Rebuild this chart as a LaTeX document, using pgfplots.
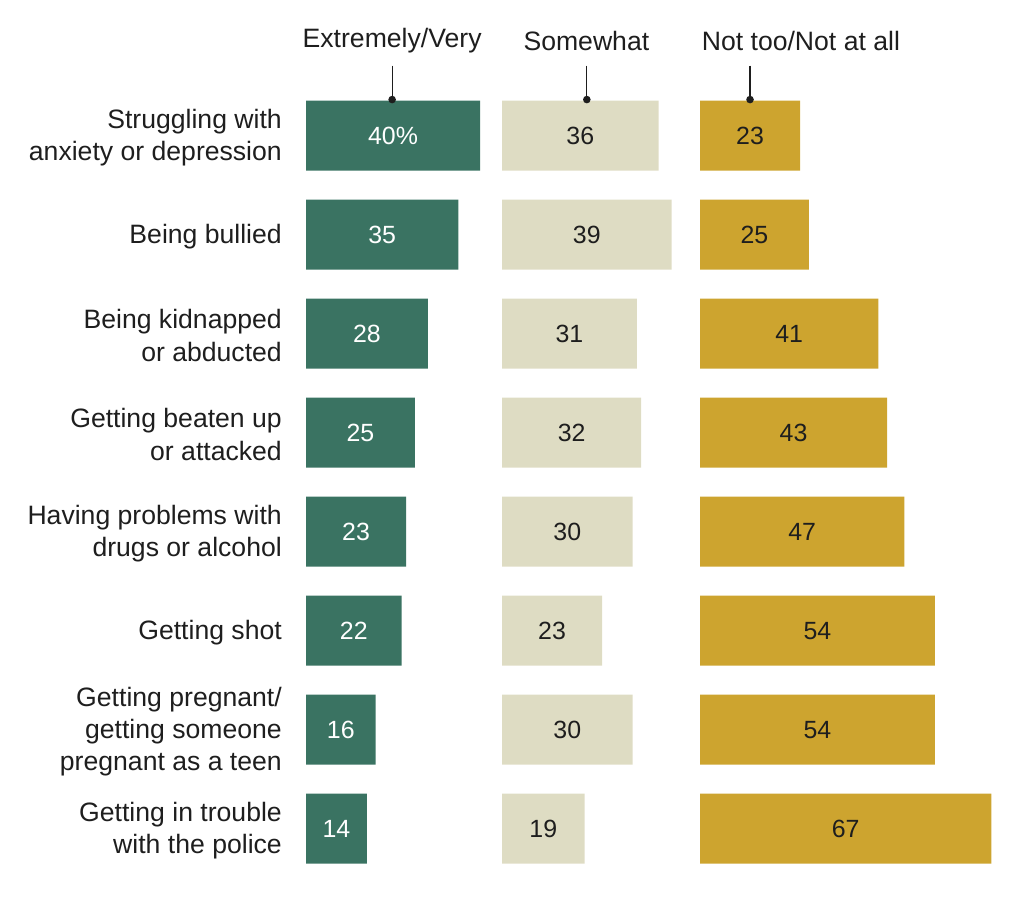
\documentclass[border=0pt]{standalone}
\usepackage{pgfplots}
\pgfplotsset{compat=1.18}
\usepackage{pgfplotstable}
\usepackage{fontspec}
\setmainfont{Liberation Sans}
\definecolor{cgreen}{HTML}{3A7362}
\definecolor{cbeige}{HTML}{DEDCC3}
\definecolor{cgold}{HTML}{CDA42F}
\definecolor{ctext}{HTML}{1E1E1E}
\newcommand\lblfont{\fontsize{26.7}{32.5}\selectfont}
\newcommand\valfont{\fontsize{25}{29}\selectfont}

\pgfplotstableread{
row ext som not extl
0 40 36 23 40\%
1 35 39 25 35
2 28 31 41 28
3 25 32 43 25
4 23 30 47 23
5 22 23 54 22
6 16 30 54 16
7 14 19 67 14
}\data

\pgfplotsset{panel/.style={
  x=4.35bp, y=99bp, y dir=reverse,
  xmin=0, xmax=70, ymin=-1.2, ymax=7.5,
  anchor=north west, clip=false,
  axis line style={draw=none}, tick style={draw=none},
  xtick=\empty, ytick=\empty, enlargelimits=false,
}}

\begin{document}
\begin{tikzpicture}
\useasboundingbox (0bp,0bp) rectangle (1024bp,903bp);

% Panel 1
\begin{axis}[panel, at={(306bp,886.2bp)},
  ytick={0,...,7},
  yticklabels={{Struggling with\\anxiety or depression},{Being bullied},{Being kidnapped\\or abducted},{Getting beaten up\\or attacked},{Having problems with\\drugs or alcohol},{Getting shot},{Getting pregnant/\\getting someone\\pregnant as a teen},{Getting in trouble\\with the police}},
  major tick length=0pt,
  yticklabel style={align=right, font=\lblfont, text=ctext, inner sep=0pt, xshift=-24bp, yshift=-2bp},
]
\addplot[xbar, bar shift=0pt, bar width=70bp, fill=cgreen, draw=none] table[x=ext, y=row]{\data};
\addplot[draw=none, mark=none, nodes near coords, point meta=explicit symbolic,
  every node near coord/.append style={anchor=center, font=\valfont, text=white}]
  table[x expr=\thisrow{ext}/2, y=row, meta=extl]{\data};
\draw[ctext, line width=1.2bp] (axis cs:19.8,-0.707) -- (axis cs:19.8,-0.364);
\fill[ctext] (axis cs:19.8,-0.364) circle[radius=3.8bp];
\node[font=\lblfont, text=ctext, anchor=center] at (axis cs:19.8,-0.96) {Extremely/Very};
\end{axis}

% Panel 2
\begin{axis}[panel, at={(502bp,886.2bp)}]
\addplot[xbar, bar shift=0pt, bar width=70bp, fill=cbeige, draw=none] table[x=som, y=row]{\data};
\addplot[draw=none, mark=none, nodes near coords, point meta=explicit symbolic,
  every node near coord/.append style={anchor=center, font=\valfont, text=ctext}]
  table[x expr=\thisrow{som}/2, y=row, meta=som]{\data};
\draw[ctext, line width=1.2bp] (axis cs:19.5,-0.707) -- (axis cs:19.5,-0.364);
\fill[ctext] (axis cs:19.5,-0.364) circle[radius=3.8bp];
\node[font=\lblfont, text=ctext, anchor=center] at (axis cs:19.4,-0.96) {Somewhat};
\end{axis}

% Panel 3
\begin{axis}[panel, at={(700bp,886.2bp)}]
\addplot[xbar, bar shift=0pt, bar width=70bp, fill=cgold, draw=none] table[x=not, y=row]{\data};
\addplot[draw=none, mark=none, nodes near coords, point meta=explicit symbolic,
  every node near coord/.append style={anchor=center, font=\valfont, text=ctext}]
  table[x expr=\thisrow{not}/2, y=row, meta=not]{\data};
\draw[ctext, line width=1.2bp] (axis cs:11.5,-0.707) -- (axis cs:11.5,-0.364);
\fill[ctext] (axis cs:11.5,-0.364) circle[radius=3.8bp];
\node[font=\lblfont, text=ctext, anchor=center] at (axis cs:23.2,-0.96) {Not too/Not at all};
\end{axis}
\end{tikzpicture}
\end{document}
